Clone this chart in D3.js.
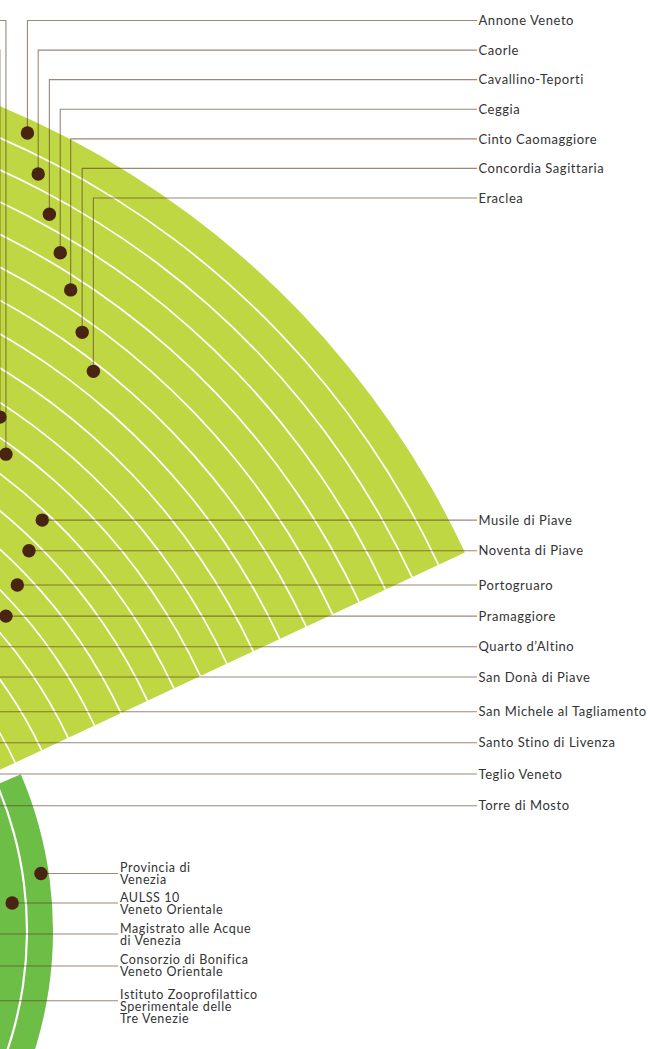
<!DOCTYPE html>
<html><head><meta charset="utf-8">
<script src="https://cdn.jsdelivr.net/npm/d3@7"></script>
<style>
html,body{margin:0;padding:0;background:#fff;}
svg{display:block;}
text{font-family:Lato,"Open Sans",sans-serif;fill:#333;}
</style>
</head><body>
<svg id="chart" width="648" height="1049"></svg>
<script>
// ---------- DATA ----------
const municipalities = ["Annone Veneto","Caorle","Cavallino-Teporti","Ceggia","Cinto Caomaggiore","Concordia Sagittaria","Eraclea","Fossalta di Piave","Fossalta di Portogruaro","Gruaro","Jesolo","Musile di Piave","Noventa di Piave","Portogruaro","Pramaggiore","Quarto d\u2019Altino","San Donà di Piave","San Michele al Tagliamento","Santo Stino di Livenza","Teglio Veneto","Torre di Mosto"];
const municipalityGroup = ["top","top","top","top","top","top","top","left","left","left","left","right","right","right","right","right","right","right","right","right","right"];
// angle of each dot (degrees, counter-clockwise from horizontal) and its ring level
const municipalityAngle = [64.98,63.15,61.18,59.14,57.04,54.49,51.93,62.0,60.0,56.13,53.65,46.70,45.48,43.68,41.90,40.42,38.04,34.93,32.16,28.92,25.10];
const municipalityLevel = [0.46,1.56,2.60,3.56,4.45,5.43,6.27,7.5,8.5,9.42,10.34,11.28,12.35,13.46,14.47,15.6,16.5,17.5,18.5,19.5,20.5];
const leftOrder = ["Jesolo","Gruaro","Fossalta di Portogruaro","Fossalta di Piave"];

const institutions = [["Provincia di","Venezia"],["AULSS 10","Veneto Orientale"],["Magistrato alle Acque","di Venezia"],["Consorzio di Bonifica","Veneto Orientale"],["Istituto Zooprofilattico","Sperimentale delle","Tre Venezie"]];
const institutionAngle = [8.47,4.48,-0.52,-6.54,-14.37];
const institutionLevel = [0.30,1.53,2.5,3.5,4.5];

const wedgeLevels = 21;   // bands in the large sector
const ringLevels = 5;     // bands in the lower ring
const wedgeSpan = [25.05, 100];  // degrees
const ringSpan = [-40, 23.2];

// ---------- LAYOUT ----------
const cx = -345, cy = 931;
const svg = d3.select("#chart");
const g = svg.append("g").attr("transform", `translate(${cx},${cy})`);

const wedgeR = d3.scaleLinear().domain([0, wedgeLevels]).range([894, 894 - 29.2*wedgeLevels]);
const ringR = d3.scaleLinear().domain([0, ringLevels]).range([398, 398 - 26*ringLevels]);
const ang = d3.scaleLinear().domain([0, 90]).range([Math.PI/2, 0]); // screen angle -> d3 arc angle
const rad = d => d*Math.PI/180;
const pt = (r, a) => [cx + r*Math.cos(rad(a)), cy - r*Math.sin(rad(a))];

const GREEN1 = "#bfd742", GREEN2 = "#6cbe46", DOT = "#4a2412";

// big sector
g.append("path")
  .attr("d", d3.arc()({innerRadius: wedgeR(wedgeLevels), outerRadius: wedgeR(0),
    startAngle: ang(wedgeSpan[1]), endAngle: ang(wedgeSpan[0])}))
  .attr("fill", GREEN1);
// white separators
g.selectAll("path.sep").data(d3.range(1, wedgeLevels)).join("path")
  .attr("class","sep")
  .attr("d", j => d3.arc()({innerRadius: wedgeR(j)-0.85, outerRadius: wedgeR(j)+0.85,
    startAngle: ang(wedgeSpan[1]), endAngle: ang(wedgeSpan[0])}))
  .attr("fill", "#fff");

// lower ring
g.append("path")
  .attr("d", d3.arc()({innerRadius: ringR(ringLevels), outerRadius: ringR(0),
    startAngle: ang(ringSpan[1]), endAngle: ang(ringSpan[0])}))
  .attr("fill", GREEN2);
g.append("path")
  .attr("d", d3.arc()({innerRadius: ringR(1)-1.1, outerRadius: ringR(1)+1.1,
    startAngle: ang(ringSpan[1]), endAngle: ang(ringSpan[0])}))
  .attr("fill", "#fff");

// municipality records
const mun = municipalities.map((name, i) => {
  const r = wedgeR(municipalityLevel[i]);
  const [x, y] = pt(r, municipalityAngle[i]);
  return {name, group: municipalityGroup[i], x, y};
});
const topNames = mun.filter(d => d.group === "top").map(d => d.name);
const topY = d3.scalePoint().domain(topNames).range([20.5, 198]);
const leftY = d3.scalePoint().domain(leftOrder).range([20.5, 109.3]);
mun.forEach(d => {
  if (d.group === "top") d.ly = topY(d.name);
  else if (d.group === "left") d.ly = leftY(d.name);
  else d.ly = d.y;
});

const LINE_END = 477, LABEL_X = 478.5;
const lines = svg.append("g").attr("fill","none").attr("stroke","#5e3c28")
  .attr("stroke-width",1.1).attr("stroke-opacity",0.62);
lines.selectAll("path").data(mun).join("path")
  .attr("d", d => {
    if (d.group === "top") return `M${d.x},${d.y}V${d.ly}H${LINE_END}`;
    if (d.group === "left") return `M${d.x},${d.y}V${d.ly}H-80`;
    return `M${d.x},${d.y}H${LINE_END}`;
  });

// institutions
const inst = institutions.map((lab, i) => {
  const [x, y] = pt(ringR(institutionLevel[i]), institutionAngle[i]);
  return {lab, x, y};
});
lines.selectAll("path.inst").data(inst).join("path")
  .attr("class","inst")
  .attr("d", d => `M${d.x},${d.y}H118`);

// dots
const dots = svg.append("g").attr("fill", DOT);
dots.selectAll("circle.m").data(mun).join("circle").attr("class","m")
  .attr("cx", d => d.x).attr("cy", d => d.y).attr("r", 6.7);
dots.selectAll("circle.i").data(inst).join("circle").attr("class","i")
  .attr("cx", d => d.x).attr("cy", d => d.y).attr("r", 6.7);

// labels
svg.append("g").selectAll("text").data(mun.filter(d => d.group !== "left")).join("text")
  .attr("x", LABEL_X).attr("y", d => d.ly + 4.7)
  .attr("font-size", 13).attr("letter-spacing", 0.55).text(d => d.name);

const it = svg.append("g").selectAll("text").data(inst).join("text")
  .attr("x", 120).attr("y", d => d.y - 1.5).attr("font-size", 12.5).attr("letter-spacing", 0.6);
it.selectAll("tspan").data(d => d.lab).join("tspan")
  .attr("x", 120).attr("dy", (d, i) => i === 0 ? 0 : 12).text(d => d);
</script>
</body></html>
